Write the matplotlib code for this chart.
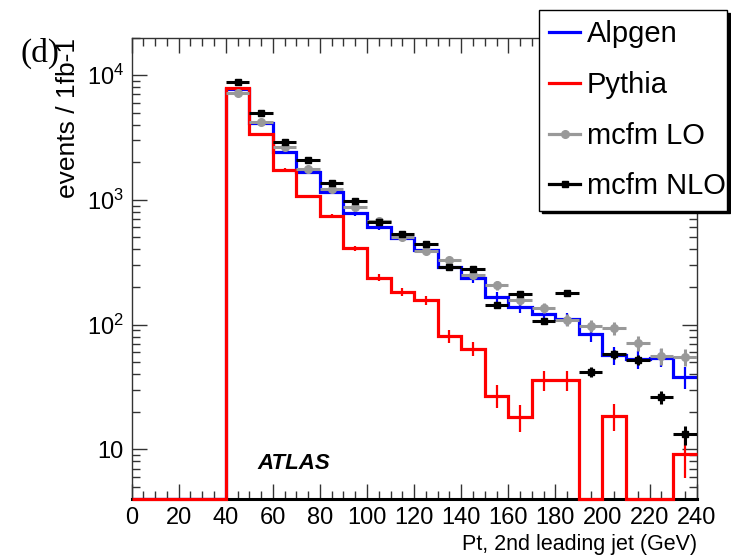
import numpy as np
import matplotlib.pyplot as plt
from matplotlib.lines import Line2D
from matplotlib.ticker import FixedLocator, LogLocator, MultipleLocator, NullFormatter

plt.rcParams['font.family'] = ['Liberation Sans', 'DejaVu Sans']
plt.rcParams['mathtext.fontset'] = 'custom'
plt.rcParams['mathtext.rm'] = 'Liberation Sans'

# 10 GeV bins, 0 - 240 GeV
edges = np.arange(0, 250, 10)
centers = edges[:-1] + 5

# generator histograms (zero below 40 GeV)
alpgen = [0, 0, 0, 0, 7700, 4120, 2415, 1670, 1155, 780, 605, 491, 393, 291,
          235, 167, 139, 121, 111, 83.5, 57, 52.7, 54.3, 38]
alpgen_err = [0, 0, 0, 0, 107, 79, 60, 50, 42, 34, 30, 27, 24, 21,
              19, 16, 14.4, 13.5, 12.9, 11.2, 9.2, 8.9, 9, 7.5]
pythia = [0, 0, 0, 0, 7820, 3400, 1750, 1067, 738, 408, 238, 182, 157, 81,
          64, 27, 18.2, 36, 36, 0, 18.4, 0, 0, 9.1]
pythia_err = [0, 0, 0, 0, 94, 62, 44, 35, 29, 21, 16, 14, 13, 9.6,
              8.5, 5.5, 4.5, 6.4, 6.4, 0, 4.5, 0, 0, 3.2]

# mcfm predictions, 40 - 240 GeV
pt = centers[4:]
lo = [7130, 4200, 2650, 1775, 1227, 881, 680, 504, 389, 328,
      250, 207, 157, 137, 109, 98, 93.4, 70.8, 56, 55]
lo_err = [96, 74, 59, 48, 40, 34, 30, 26, 22, 21,
          18, 16, 14, 13, 12, 11, 11, 9.5, 8.5, 8.5]
nlo = [8790, 4990, 2904, 2083, 1370, 977, 660, 530, 440, 291,
       278, 143, 175, 107, 179, 41.7, 57.8, 52.4, 26.4, 13.2]
nlo_err = [59, 45, 34, 29, 23, 20, 16, 15, 13, 11,
           10.5, 7.6, 8.4, 6.5, 8.5, 4, 4.8, 4.6, 3.2, 2.3]

ymin, ymax = 4, 2e4

fig = plt.figure(figsize=(7.31, 5.6), dpi=100)
ax = fig.add_axes([0.180, 0.109, 0.773, 0.824])
ax.set_yscale('log')


def floor(v):
    v = np.asarray(v, dtype=float)
    return np.where(v > 0, v, ymin)


def with_err(v, e):
    v = np.asarray(v, dtype=float)
    e = np.asarray(e, dtype=float)
    m = (v > 0) & (e > 0)
    return centers[m], v[m], e[m]


ax.stairs(floor(alpgen), edges, color='#0000ff', lw=2.3, baseline=None, zorder=2)
x, y, e = with_err(alpgen, alpgen_err)
ax.errorbar(x, y, yerr=e, fmt='none', ecolor='#0000ff', elinewidth=1.6, zorder=2)

ax.stairs(floor(pythia), edges, color='#ff0000', lw=2.3, baseline=None, zorder=3, clip_on=False)
x, y, e = with_err(pythia, pythia_err)
ax.errorbar(x, y, yerr=e, fmt='none', ecolor='#ff0000', elinewidth=1.6, zorder=3)

ax.errorbar(pt, lo, xerr=5, yerr=lo_err, fmt='o', color='#999999', ms=5.5,
            elinewidth=2.2, capsize=0, zorder=4)
ax.errorbar(pt, nlo, xerr=5, yerr=nlo_err, fmt='s', color='black', ms=5,
            elinewidth=2.2, capsize=0, zorder=5)

ax.set_xlim(0, 240)
ax.set_ylim(ymin, ymax)

ax.xaxis.set_major_locator(MultipleLocator(20))
ax.xaxis.set_minor_locator(MultipleLocator(5))
ax.yaxis.set_major_locator(FixedLocator([10, 100, 1000, 10000]))
ax.yaxis.set_major_formatter(plt.FuncFormatter(
    lambda v, p: '10' if v < 50 else r'$\mathregular{10^{%d}}$' % round(np.log10(v))))
ax.yaxis.set_minor_locator(LogLocator(base=10, subs=np.arange(2, 10)))
ax.yaxis.set_minor_formatter(NullFormatter())

ax.tick_params(which='both', direction='in', top=True, right=True,
               labelsize=17, color='#333333', pad=5.5, width=1)
ax.tick_params(which='major', length=10.5)
ax.tick_params(which='minor', length=5.5)
for s in ax.spines.values():
    s.set_linewidth(1)
    s.set_color('#333333')
ax.spines['bottom'].set_linewidth(2.2)
ax.spines['bottom'].set_color('black')

ax.set_xlabel('Pt, 2nd leading jet (GeV)', loc='right', fontsize=15.5)
ax.xaxis.set_label_coords(1.0, -0.076)
ax.set_ylabel('events / 1fb-1', loc='top', fontsize=19)
ax.yaxis.set_label_coords(-0.092, 1.0)

ax.text(0.2235, 0.064, 'ATLAS', transform=ax.transAxes, fontsize=16,
        fontweight='bold', fontstyle='italic')
fig.text(21 / 731, 1 - 62 / 560, '(d)', fontsize=24, family=['Liberation Serif', 'DejaVu Serif'])

handles = [Line2D([], [], color='#0000ff', lw=2.3),
           Line2D([], [], color='#ff0000', lw=2.3),
           Line2D([], [], color='#999999', lw=2.3, marker='o', ms=5.5),
           Line2D([], [], color='black', lw=2.3, marker='s', ms=5)]
leg = fig.legend(handles, ['Alpgen', 'Pythia', 'mcfm LO', 'mcfm NLO'],
                 loc='upper left', mode='expand',
                 bbox_to_anchor=(539 / 731, 1 - 212 / 560, 188 / 731, 202 / 560),
                 bbox_transform=fig.transFigure, borderaxespad=0,
                 prop={'size': 21},
                 handlelength=1.05, handletextpad=0.23, labelspacing=0.78,
                 borderpad=0.35, fancybox=False, framealpha=1,
                 edgecolor='black', shadow={'color': 'black', 'alpha': 1})
leg.get_frame().set_linewidth(1)
leg.set_zorder(10)

fig.savefig('out.png', dpi=100)
